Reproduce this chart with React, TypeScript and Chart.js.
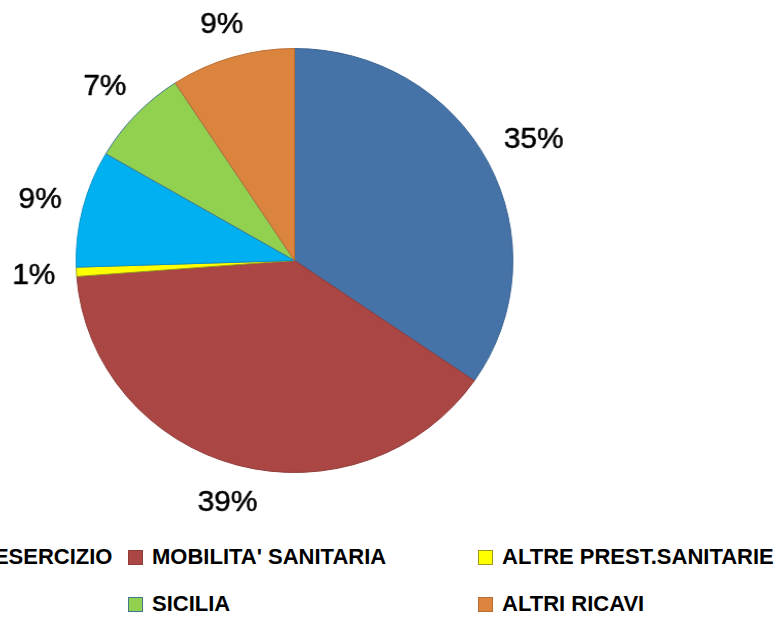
import React, { useEffect, useRef } from "react";
import { Chart, registerables } from "chart.js";

Chart.register(...registerables);

// ---- data ----
const categories = [
  "CONTRIBUTI IN C/ESERCIZIO",
  "MOBILITA' SANITARIA",
  "ALTRE PREST.SANITARIE",
  "CALABRIA",
  "SICILIA",
  "ALTRI RICAVI",
];
const values = [34.6, 39.2, 0.7, 8.9, 7.4, 9.2];
const sliceColors = ["#4572A7", "#AA4643", "#FFFF00", "#00B0F0", "#92D050", "#DB843D"];
const sliceBorders = ["#3B6390", "#8F3B39", "#9A9A20", "#0A93C8", "#3F7A8E", "#B86D31"];

const LABEL_FONT = "29px 'Liberation Sans', Arial, sans-serif";
const LEGEND_FONT = "700 22px 'Liberation Sans', Arial, sans-serif";

const pctLabels = {
  id: "pctLabels",
  afterDatasetsDraw(chart: any) {
    const ctx = chart.ctx as CanvasRenderingContext2D;
    const meta = chart.getDatasetMeta(0);
    const data = chart.data.datasets[0].data as number[];
    const total = data.reduce((a, b) => a + b, 0);
    ctx.save();
    ctx.font = LABEL_FONT;
    ctx.fillStyle = "#000";
    ctx.strokeStyle = "#000";
    ctx.lineWidth = 0.5;
    ctx.lineJoin = "round";
    ctx.textAlign = "center";
    ctx.textBaseline = "alphabetic";
    meta.data.forEach((arc: any, i: number) => {
      const p = arc.getProps(["x", "y", "startAngle", "endAngle", "outerRadius"], true);
      const mid = (p.startAngle + p.endAngle) / 2;
      const txt = Math.round((data[i] / total) * 100) + "%";
      const m = ctx.measureText(txt);
      const hw = m.width / 2;
      const asc = m.actualBoundingBoxAscent;
      const desc = m.actualBoundingBoxDescent;
      const hh = (asc + desc) / 2;
      const ux = Math.cos(mid);
      const uy = Math.sin(mid);
      const support = Math.abs(ux) * hw + Math.abs(uy) * hh;
      const d = p.outerRadius + 20 + support;
      const cx = p.x + ux * d;
      const cy = p.y + uy * d;
      const by = cy + (asc - desc) / 2;
      ctx.fillText(txt, cx, by);
      ctx.strokeText(txt, cx, by);
    });
    ctx.restore();
  },
};

const colX = [-222, 128, 478];
const rowY = [557, 604];

export default function App() {
  const ref = useRef<HTMLCanvasElement | null>(null);

  useEffect(() => {
    if (!ref.current) return;
    const chart = new Chart(ref.current, {
      type: "pie",
      data: {
        labels: categories,
        datasets: [
          {
            data: values,
            backgroundColor: sliceColors,
            borderColor: sliceBorders,
            borderWidth: 1,
          },
        ],
      },
      options: {
        responsive: false,
        animation: false,
        devicePixelRatio: 1,
        layout: { padding: { top: 48, bottom: 49, left: 82, right: 83 } },
        plugins: {
          legend: { display: false },
          tooltip: { enabled: false },
        },
      },
      plugins: [pctLabels],
    });
    return () => chart.destroy();
  }, []);

  return (
    <div
      style={{
        position: "absolute",
        left: 0,
        top: 0,
        width: 776,
        height: 617,
        overflow: "hidden",
        background: "#fff",
      }}
    >
      <canvas
        ref={ref}
        width={590}
        height={522}
        style={{
          position: "absolute",
          left: 0,
          top: 0,
          width: 590,
          height: 522,
          transform: "scaleX(1.03)",
          transformOrigin: "295px 261px",
        }}
      />
      {categories.map((c, i) => {
        const col = i % 3;
        const row = Math.floor(i / 3);
        return (
          <div
            key={c}
            style={{
              position: "absolute",
              left: colX[col],
              top: rowY[row] - 12,
              height: 24,
              display: "flex",
              alignItems: "center",
              whiteSpace: "nowrap",
            }}
          >
            <span
              style={{
                display: "inline-block",
                width: 15,
                height: 15,
                boxSizing: "border-box",
                background: sliceColors[i],
                border: `1px solid ${sliceBorders[i]}`,
                marginRight: 9,
              }}
            />
            <span style={{ font: LEGEND_FONT, lineHeight: "24px", color: "#000" }}>{c}</span>
          </div>
        );
      })}
    </div>
  );
}
